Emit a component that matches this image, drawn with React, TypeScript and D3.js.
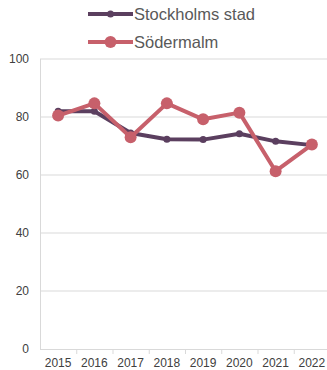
import React, { useEffect, useRef } from 'react';
import * as d3 from 'd3';

const years = ['2015', '2016', '2017', '2018', '2019', '2020', '2021', '2022'];
const stockholm = [82, 82, 74.5, 72.3, 72.2, 74.2, 71.6, 70.3];
const sodermalm = [80.5, 84.7, 73, 84.7, 79.2, 81.5, 61.3, 70.5];
const yTicks = [0, 20, 40, 60, 80, 100];

const series = [
  { name: 'Stockholms stad', values: stockholm, color: '#5b3f5f', r: 3.5, width: 4 },
  { name: 'Södermalm', values: sodermalm, color: '#c7606b', r: 6, width: 4 },
];

export default function App() {
  const svgRef = useRef<SVGSVGElement>(null);

  useEffect(() => {
    if (!svgRef.current) return;
    const width = 327;
    const height = 370;
    const svg = d3.select(svgRef.current);
    svg.selectAll('*').remove();

    const x = d3.scaleBand<string>().domain(years).range([40, 330]);
    const y = d3.scaleLinear().domain([0, 100]).range([349, 59]);

    // gridlines
    svg.append('g')
      .selectAll('line')
      .data(yTicks.filter((t) => t > 0))
      .enter()
      .append('line')
      .attr('x1', 40)
      .attr('x2', width)
      .attr('y1', (d) => y(d))
      .attr('y2', (d) => y(d))
      .attr('stroke', '#d9d9d9')
      .attr('stroke-width', 1);

    // axes lines
    svg.append('line')
      .attr('x1', 40.5).attr('x2', 40.5)
      .attr('y1', y(100)).attr('y2', y(0))
      .attr('stroke', '#d9d9d9');
    svg.append('line')
      .attr('x1', 40).attr('x2', width)
      .attr('y1', y(0) + 0.5).attr('y2', y(0) + 0.5)
      .attr('stroke', '#d9d9d9');

    // x ticks
    svg.append('g')
      .selectAll('line')
      .data(years.slice(1))
      .enter()
      .append('line')
      .attr('x1', (d) => (x(d) as number) + 0.5)
      .attr('x2', (d) => (x(d) as number) + 0.5)
      .attr('y1', y(0))
      .attr('y2', y(0) + 5)
      .attr('stroke', '#d9d9d9');

    svg.append('g')
      .selectAll('text')
      .data(yTicks)
      .enter()
      .append('text')
      .attr('x', 29)
      .attr('y', (d) => y(d))
      .attr('dy', '0.35em')
      .attr('text-anchor', 'end')
      .attr('font-family', 'Liberation Sans, Arial, sans-serif')
      .attr('font-size', 12)
      .attr('fill', '#404040')
      .text((d) => d);

    svg.append('g')
      .selectAll('text')
      .data(years)
      .enter()
      .append('text')
      .attr('x', (d) => (x(d) as number) + x.bandwidth() / 2)
      .attr('y', 367)
      .attr('text-anchor', 'middle')
      .attr('font-family', 'Liberation Sans, Arial, sans-serif')
      .attr('font-size', 12)
      .attr('fill', '#404040')
      .text((d) => d);

    const line = d3.line<number>()
      .x((_, i) => (x(years[i]) as number) + x.bandwidth() / 2)
      .y((d) => y(d));

    series.forEach((s) => {
      const g = svg.append('g');
      g.append('path')
        .attr('d', line(s.values))
        .attr('fill', 'none')
        .attr('stroke', s.color)
        .attr('stroke-width', s.width)
        .attr('stroke-linejoin', 'round');
      g.selectAll('circle')
        .data(s.values)
        .enter()
        .append('circle')
        .attr('cx', (_, i) => (x(years[i]) as number) + x.bandwidth() / 2)
        .attr('cy', (d) => y(d))
        .attr('r', s.r)
        .attr('fill', s.color);
    });

    // legend
    const legend = svg.append('g');
    series.forEach((s, i) => {
      const ly = 14 + i * 28;
      legend.append('line')
        .attr('x1', 88).attr('x2', 133)
        .attr('y1', ly).attr('y2', ly)
        .attr('stroke', s.color)
        .attr('stroke-width', s.width);
      legend.append('circle')
        .attr('cx', 110.5).attr('cy', ly)
        .attr('r', s.r)
        .attr('fill', s.color);
      legend.append('text')
        .attr('x', 134)
        .attr('y', ly)
        .attr('dy', '0.35em')
        .attr('font-family', 'Liberation Sans, Arial, sans-serif')
        .attr('font-size', 16.5)
        .attr('fill', '#595959')
        .text(s.name);
    });

    svg.attr('width', width).attr('height', height);
  }, []);

  return (
    <svg
      ref={svgRef}
      width={327}
      height={370}
      style={{ position: 'absolute', left: 0, top: 0, background: '#fff' }}
    />
  );
}
